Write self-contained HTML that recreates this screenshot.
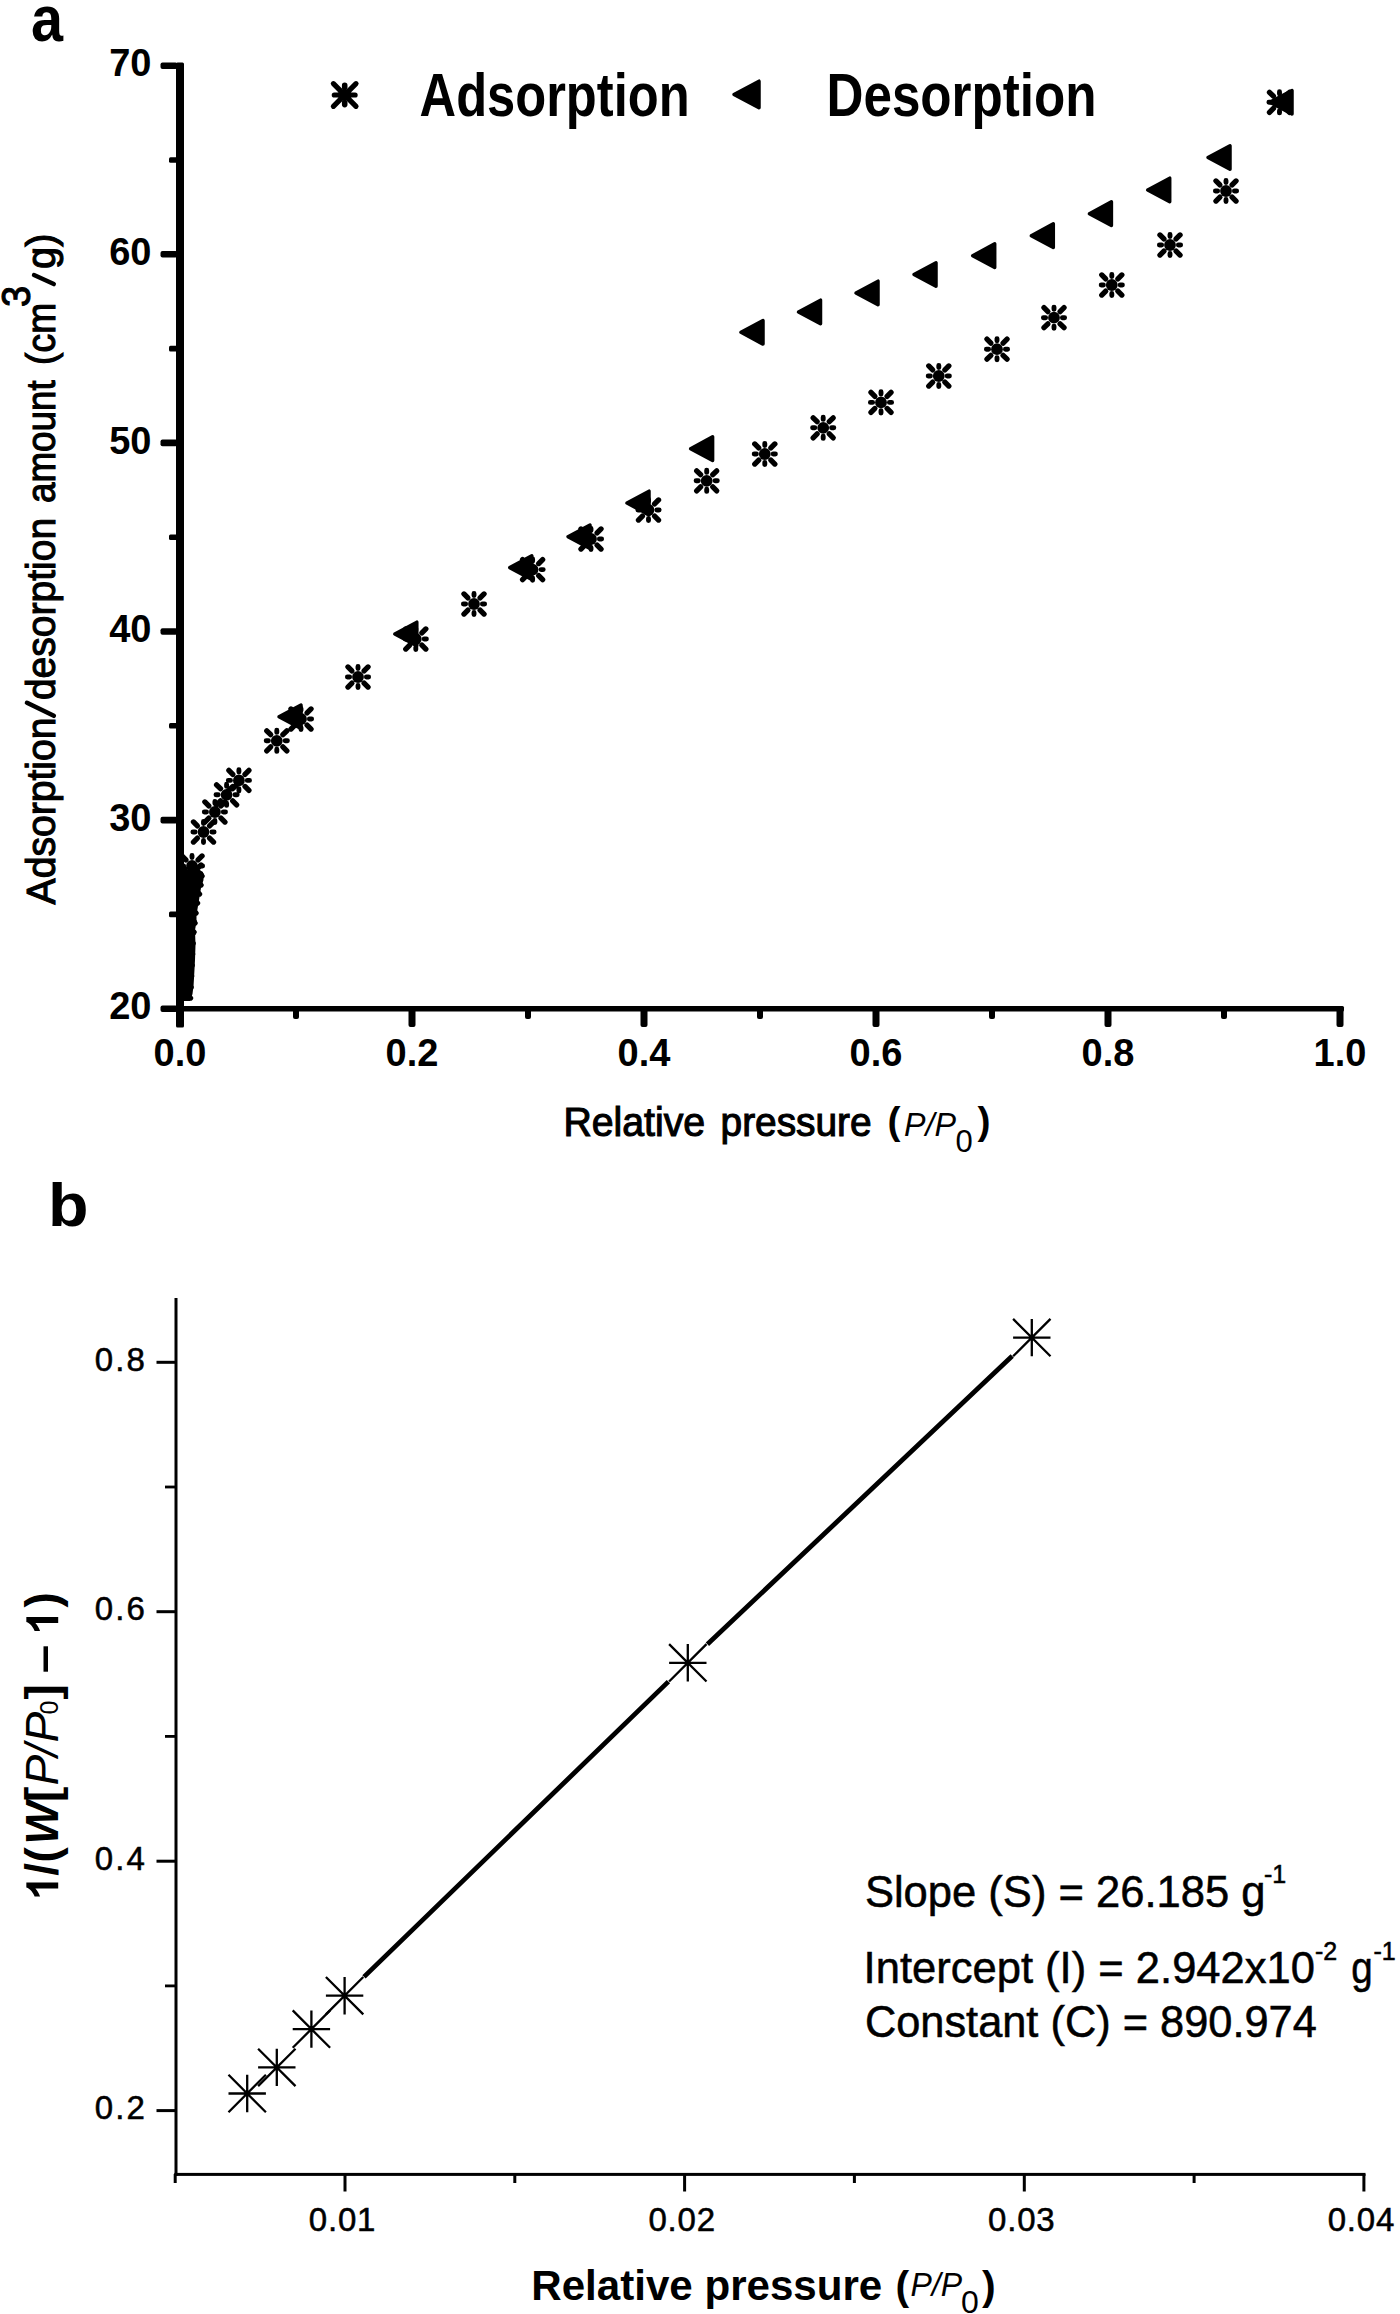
<!DOCTYPE html>
<html><head><meta charset="utf-8"><style>
html,body{margin:0;padding:0;background:#fff;}
body{width:1400px;height:2314px;overflow:hidden;position:relative;font-family:"Liberation Sans",sans-serif;}
svg{position:absolute;left:0;top:0;}
</style></head><body>
<svg width="1400" height="2314" viewBox="0 0 1400 2314">
<rect x="176" y="62.5" width="8" height="965" rx="1.5" fill="#000"/>
<rect x="176" y="1006" width="1168" height="5.5" rx="1.5" fill="#000"/>
<rect x="160.5" y="1005.4" width="17" height="6.6" rx="2" fill="#000"/>
<rect x="160.5" y="816.8" width="17" height="6.6" rx="2" fill="#000"/>
<rect x="160.5" y="628.2" width="17" height="6.6" rx="2" fill="#000"/>
<rect x="160.5" y="439.6" width="17" height="6.6" rx="2" fill="#000"/>
<rect x="160.5" y="251.0" width="17" height="6.6" rx="2" fill="#000"/>
<rect x="160.5" y="62.4" width="17" height="6.6" rx="2" fill="#000"/>
<rect x="169" y="911.6" width="9" height="5.6" rx="1.5" fill="#000"/>
<rect x="169" y="723.0" width="9" height="5.6" rx="1.5" fill="#000"/>
<rect x="169" y="534.4" width="9" height="5.6" rx="1.5" fill="#000"/>
<rect x="169" y="345.8" width="9" height="5.6" rx="1.5" fill="#000"/>
<rect x="169" y="157.2" width="9" height="5.6" rx="1.5" fill="#000"/>
<rect x="408.5" y="1008" width="7" height="19" rx="2" fill="#000"/>
<rect x="640.5" y="1008" width="7" height="19" rx="2" fill="#000"/>
<rect x="872.5" y="1008" width="7" height="19" rx="2" fill="#000"/>
<rect x="1104.5" y="1008" width="7" height="19" rx="2" fill="#000"/>
<rect x="1336.5" y="1008" width="7" height="19" rx="2" fill="#000"/>
<rect x="293.0" y="1008" width="6" height="11" rx="2" fill="#000"/>
<rect x="525.0" y="1008" width="6" height="11" rx="2" fill="#000"/>
<rect x="757.0" y="1008" width="6" height="11" rx="2" fill="#000"/>
<rect x="989.0" y="1008" width="6" height="11" rx="2" fill="#000"/>
<rect x="1221.0" y="1008" width="6" height="11" rx="2" fill="#000"/>
<text x="151.5" y="1019.4" font-family="Liberation Sans" font-weight="bold" font-size="38" text-anchor="end">20</text>
<text x="151.5" y="830.8" font-family="Liberation Sans" font-weight="bold" font-size="38" text-anchor="end">30</text>
<text x="151.5" y="642.2" font-family="Liberation Sans" font-weight="bold" font-size="38" text-anchor="end">40</text>
<text x="151.5" y="453.6" font-family="Liberation Sans" font-weight="bold" font-size="38" text-anchor="end">50</text>
<text x="151.5" y="265.0" font-family="Liberation Sans" font-weight="bold" font-size="38" text-anchor="end">60</text>
<text x="151.5" y="76.4" font-family="Liberation Sans" font-weight="bold" font-size="38" text-anchor="end">70</text>
<text x="180.0" y="1065.8" font-family="Liberation Sans" font-weight="bold" font-size="38" text-anchor="middle">0.0</text>
<text x="412.0" y="1065.8" font-family="Liberation Sans" font-weight="bold" font-size="38" text-anchor="middle">0.2</text>
<text x="644.0" y="1065.8" font-family="Liberation Sans" font-weight="bold" font-size="38" text-anchor="middle">0.4</text>
<text x="876.0" y="1065.8" font-family="Liberation Sans" font-weight="bold" font-size="38" text-anchor="middle">0.6</text>
<text x="1108.0" y="1065.8" font-family="Liberation Sans" font-weight="bold" font-size="38" text-anchor="middle">0.8</text>
<text x="1340.0" y="1065.8" font-family="Liberation Sans" font-weight="bold" font-size="38" text-anchor="middle">1.0</text>
<defs><clipPath id="ca"><rect x="182" y="0" width="1218" height="1008"/></clipPath></defs>
<g clip-path="url(#ca)">
<path d="M1270.0 102.3L1292.0 90.5L1292.0 114.0Z" fill="#000" stroke="#000" stroke-width="3.5" stroke-linejoin="round"/>
<path d="M1208.0 157.5L1230.0 145.8L1230.0 169.2Z" fill="#000" stroke="#000" stroke-width="3.5" stroke-linejoin="round"/>
<path d="M1147.7 190.0L1169.7 178.2L1169.7 201.8Z" fill="#000" stroke="#000" stroke-width="3.5" stroke-linejoin="round"/>
<path d="M1089.4 213.7L1111.4 201.9L1111.4 225.4Z" fill="#000" stroke="#000" stroke-width="3.5" stroke-linejoin="round"/>
<path d="M1031.3 235.7L1053.3 223.9L1053.3 247.4Z" fill="#000" stroke="#000" stroke-width="3.5" stroke-linejoin="round"/>
<path d="M972.7 255.7L994.7 243.9L994.7 267.4Z" fill="#000" stroke="#000" stroke-width="3.5" stroke-linejoin="round"/>
<path d="M914.0 274.5L936.0 262.8L936.0 286.2Z" fill="#000" stroke="#000" stroke-width="3.5" stroke-linejoin="round"/>
<path d="M856.0 293.0L878.0 281.2L878.0 304.8Z" fill="#000" stroke="#000" stroke-width="3.5" stroke-linejoin="round"/>
<path d="M798.5 312.0L820.5 300.2L820.5 323.8Z" fill="#000" stroke="#000" stroke-width="3.5" stroke-linejoin="round"/>
<path d="M741.0 332.3L763.0 320.6L763.0 344.1Z" fill="#000" stroke="#000" stroke-width="3.5" stroke-linejoin="round"/>
<path d="M690.6 448.7L712.6 436.9L712.6 460.4Z" fill="#000" stroke="#000" stroke-width="3.5" stroke-linejoin="round"/>
<path d="M627.0 503.0L649.0 491.2L649.0 514.8Z" fill="#000" stroke="#000" stroke-width="3.5" stroke-linejoin="round"/>
<path d="M568.0 536.7L590.0 525.0L590.0 548.5Z" fill="#000" stroke="#000" stroke-width="3.5" stroke-linejoin="round"/>
<path d="M509.8 567.6L531.8 555.9L531.8 579.4Z" fill="#000" stroke="#000" stroke-width="3.5" stroke-linejoin="round"/>
<path d="M394.8 634.0L416.8 622.2L416.8 645.8Z" fill="#000" stroke="#000" stroke-width="3.5" stroke-linejoin="round"/>
<path d="M279.0 716.8L301.0 705.0L301.0 728.5Z" fill="#000" stroke="#000" stroke-width="3.5" stroke-linejoin="round"/>
<path d="M1287.90 102.30L1290.10 102.30M1271.10 102.30L1268.90 102.30M1279.50 110.70L1279.50 112.90M1279.50 93.90L1279.50 91.70" stroke="#000" stroke-width="4.9" stroke-linecap="round" fill="none"/><path d="M1285.58 108.38L1289.54 112.34M1273.42 108.38L1269.46 112.34M1285.58 96.22L1289.54 92.26M1273.42 96.22L1269.46 92.26" stroke="#000" stroke-width="5.300000000000001" stroke-linecap="round" fill="none"/><circle cx="1279.50" cy="102.30" r="5.9" fill="#000"/>
<path d="M1234.40 191.00L1236.60 191.00M1217.60 191.00L1215.40 191.00M1226.00 199.40L1226.00 201.60M1226.00 182.60L1226.00 180.40" stroke="#000" stroke-width="4.9" stroke-linecap="round" fill="none"/><path d="M1232.08 197.08L1236.04 201.04M1219.92 197.08L1215.96 201.04M1232.08 184.92L1236.04 180.96M1219.92 184.92L1215.96 180.96" stroke="#000" stroke-width="5.300000000000001" stroke-linecap="round" fill="none"/><circle cx="1226.00" cy="191.00" r="5.9" fill="#000"/>
<path d="M1178.40 245.00L1180.60 245.00M1161.60 245.00L1159.40 245.00M1170.00 253.40L1170.00 255.60M1170.00 236.60L1170.00 234.40" stroke="#000" stroke-width="4.9" stroke-linecap="round" fill="none"/><path d="M1176.08 251.08L1180.04 255.04M1163.92 251.08L1159.96 255.04M1176.08 238.92L1180.04 234.96M1163.92 238.92L1159.96 234.96" stroke="#000" stroke-width="5.300000000000001" stroke-linecap="round" fill="none"/><circle cx="1170.00" cy="245.00" r="5.9" fill="#000"/>
<path d="M1120.20 285.00L1122.40 285.00M1103.40 285.00L1101.20 285.00M1111.80 293.40L1111.80 295.60M1111.80 276.60L1111.80 274.40" stroke="#000" stroke-width="4.9" stroke-linecap="round" fill="none"/><path d="M1117.88 291.08L1121.84 295.04M1105.72 291.08L1101.76 295.04M1117.88 278.92L1121.84 274.96M1105.72 278.92L1101.76 274.96" stroke="#000" stroke-width="5.300000000000001" stroke-linecap="round" fill="none"/><circle cx="1111.80" cy="285.00" r="5.9" fill="#000"/>
<path d="M1062.40 317.70L1064.60 317.70M1045.60 317.70L1043.40 317.70M1054.00 326.10L1054.00 328.30M1054.00 309.30L1054.00 307.10" stroke="#000" stroke-width="4.9" stroke-linecap="round" fill="none"/><path d="M1060.08 323.78L1064.04 327.74M1047.92 323.78L1043.96 327.74M1060.08 311.62L1064.04 307.66M1047.92 311.62L1043.96 307.66" stroke="#000" stroke-width="5.300000000000001" stroke-linecap="round" fill="none"/><circle cx="1054.00" cy="317.70" r="5.9" fill="#000"/>
<path d="M1005.40 349.20L1007.60 349.20M988.60 349.20L986.40 349.20M997.00 357.60L997.00 359.80M997.00 340.80L997.00 338.60" stroke="#000" stroke-width="4.9" stroke-linecap="round" fill="none"/><path d="M1003.08 355.28L1007.04 359.24M990.92 355.28L986.96 359.24M1003.08 343.12L1007.04 339.16M990.92 343.12L986.96 339.16" stroke="#000" stroke-width="5.300000000000001" stroke-linecap="round" fill="none"/><circle cx="997.00" cy="349.20" r="5.9" fill="#000"/>
<path d="M947.20 376.00L949.40 376.00M930.40 376.00L928.20 376.00M938.80 384.40L938.80 386.60M938.80 367.60L938.80 365.40" stroke="#000" stroke-width="4.9" stroke-linecap="round" fill="none"/><path d="M944.88 382.08L948.84 386.04M932.72 382.08L928.76 386.04M944.88 369.92L948.84 365.96M932.72 369.92L928.76 365.96" stroke="#000" stroke-width="5.300000000000001" stroke-linecap="round" fill="none"/><circle cx="938.80" cy="376.00" r="5.9" fill="#000"/>
<path d="M889.40 402.40L891.60 402.40M872.60 402.40L870.40 402.40M881.00 410.80L881.00 413.00M881.00 394.00L881.00 391.80" stroke="#000" stroke-width="4.9" stroke-linecap="round" fill="none"/><path d="M887.08 408.48L891.04 412.44M874.92 408.48L870.96 412.44M887.08 396.32L891.04 392.36M874.92 396.32L870.96 392.36" stroke="#000" stroke-width="5.300000000000001" stroke-linecap="round" fill="none"/><circle cx="881.00" cy="402.40" r="5.9" fill="#000"/>
<path d="M831.60 427.80L833.80 427.80M814.80 427.80L812.60 427.80M823.20 436.20L823.20 438.40M823.20 419.40L823.20 417.20" stroke="#000" stroke-width="4.9" stroke-linecap="round" fill="none"/><path d="M829.28 433.88L833.24 437.84M817.12 433.88L813.16 437.84M829.28 421.72L833.24 417.76M817.12 421.72L813.16 417.76" stroke="#000" stroke-width="5.300000000000001" stroke-linecap="round" fill="none"/><circle cx="823.20" cy="427.80" r="5.9" fill="#000"/>
<path d="M773.20 454.00L775.40 454.00M756.40 454.00L754.20 454.00M764.80 462.40L764.80 464.60M764.80 445.60L764.80 443.40" stroke="#000" stroke-width="4.9" stroke-linecap="round" fill="none"/><path d="M770.88 460.08L774.84 464.04M758.72 460.08L754.76 464.04M770.88 447.92L774.84 443.96M758.72 447.92L754.76 443.96" stroke="#000" stroke-width="5.300000000000001" stroke-linecap="round" fill="none"/><circle cx="764.80" cy="454.00" r="5.9" fill="#000"/>
<path d="M715.10 480.80L717.30 480.80M698.30 480.80L696.10 480.80M706.70 489.20L706.70 491.40M706.70 472.40L706.70 470.20" stroke="#000" stroke-width="4.9" stroke-linecap="round" fill="none"/><path d="M712.78 486.88L716.74 490.84M700.62 486.88L696.66 490.84M712.78 474.72L716.74 470.76M700.62 474.72L696.66 470.76" stroke="#000" stroke-width="5.300000000000001" stroke-linecap="round" fill="none"/><circle cx="706.70" cy="480.80" r="5.9" fill="#000"/>
<path d="M656.90 510.00L659.10 510.00M640.10 510.00L637.90 510.00M648.50 518.40L648.50 520.60M648.50 501.60L648.50 499.40" stroke="#000" stroke-width="4.9" stroke-linecap="round" fill="none"/><path d="M654.58 516.08L658.54 520.04M642.42 516.08L638.46 520.04M654.58 503.92L658.54 499.96M642.42 503.92L638.46 499.96" stroke="#000" stroke-width="5.300000000000001" stroke-linecap="round" fill="none"/><circle cx="648.50" cy="510.00" r="5.9" fill="#000"/>
<path d="M599.40 539.00L601.60 539.00M582.60 539.00L580.40 539.00M591.00 547.40L591.00 549.60M591.00 530.60L591.00 528.40" stroke="#000" stroke-width="4.9" stroke-linecap="round" fill="none"/><path d="M597.08 545.08L601.04 549.04M584.92 545.08L580.96 549.04M597.08 532.92L601.04 528.96M584.92 532.92L580.96 528.96" stroke="#000" stroke-width="5.300000000000001" stroke-linecap="round" fill="none"/><circle cx="591.00" cy="539.00" r="5.9" fill="#000"/>
<path d="M541.00 569.60L543.20 569.60M524.20 569.60L522.00 569.60M532.60 578.00L532.60 580.20M532.60 561.20L532.60 559.00" stroke="#000" stroke-width="4.9" stroke-linecap="round" fill="none"/><path d="M538.68 575.68L542.64 579.64M526.52 575.68L522.56 579.64M538.68 563.52L542.64 559.56M526.52 563.52L522.56 559.56" stroke="#000" stroke-width="5.300000000000001" stroke-linecap="round" fill="none"/><circle cx="532.60" cy="569.60" r="5.9" fill="#000"/>
<path d="M482.40 604.00L484.60 604.00M465.60 604.00L463.40 604.00M474.00 612.40L474.00 614.60M474.00 595.60L474.00 593.40" stroke="#000" stroke-width="4.9" stroke-linecap="round" fill="none"/><path d="M480.08 610.08L484.04 614.04M467.92 610.08L463.96 614.04M480.08 597.92L484.04 593.96M467.92 597.92L463.96 593.96" stroke="#000" stroke-width="5.300000000000001" stroke-linecap="round" fill="none"/><circle cx="474.00" cy="604.00" r="5.9" fill="#000"/>
<path d="M424.20 639.00L426.40 639.00M407.40 639.00L405.20 639.00M415.80 647.40L415.80 649.60M415.80 630.60L415.80 628.40" stroke="#000" stroke-width="4.9" stroke-linecap="round" fill="none"/><path d="M421.88 645.08L425.84 649.04M409.72 645.08L405.76 649.04M421.88 632.92L425.84 628.96M409.72 632.92L405.76 628.96" stroke="#000" stroke-width="5.300000000000001" stroke-linecap="round" fill="none"/><circle cx="415.80" cy="639.00" r="5.9" fill="#000"/>
<path d="M366.40 677.00L368.60 677.00M349.60 677.00L347.40 677.00M358.00 685.40L358.00 687.60M358.00 668.60L358.00 666.40" stroke="#000" stroke-width="4.9" stroke-linecap="round" fill="none"/><path d="M364.08 683.08L368.04 687.04M351.92 683.08L347.96 687.04M364.08 670.92L368.04 666.96M351.92 670.92L347.96 666.96" stroke="#000" stroke-width="5.300000000000001" stroke-linecap="round" fill="none"/><circle cx="358.00" cy="677.00" r="5.9" fill="#000"/>
<path d="M309.40 719.00L311.60 719.00M292.60 719.00L290.40 719.00M301.00 727.40L301.00 729.60M301.00 710.60L301.00 708.40" stroke="#000" stroke-width="4.9" stroke-linecap="round" fill="none"/><path d="M307.08 725.08L311.04 729.04M294.92 725.08L290.96 729.04M307.08 712.92L311.04 708.96M294.92 712.92L290.96 708.96" stroke="#000" stroke-width="5.300000000000001" stroke-linecap="round" fill="none"/><circle cx="301.00" cy="719.00" r="5.9" fill="#000"/>
<path d="M285.20 740.80L287.40 740.80M268.40 740.80L266.20 740.80M276.80 749.20L276.80 751.40M276.80 732.40L276.80 730.20" stroke="#000" stroke-width="4.9" stroke-linecap="round" fill="none"/><path d="M282.88 746.88L286.84 750.84M270.72 746.88L266.76 750.84M282.88 734.72L286.84 730.76M270.72 734.72L266.76 730.76" stroke="#000" stroke-width="5.300000000000001" stroke-linecap="round" fill="none"/><circle cx="276.80" cy="740.80" r="5.9" fill="#000"/>
<path d="M247.30 780.40L249.50 780.40M230.50 780.40L228.30 780.40M238.90 788.80L238.90 791.00M238.90 772.00L238.90 769.80" stroke="#000" stroke-width="4.9" stroke-linecap="round" fill="none"/><path d="M244.98 786.48L248.94 790.44M232.82 786.48L228.86 790.44M244.98 774.32L248.94 770.36M232.82 774.32L228.86 770.36" stroke="#000" stroke-width="5.300000000000001" stroke-linecap="round" fill="none"/><circle cx="238.90" cy="780.40" r="5.9" fill="#000"/>
<path d="M235.00 794.80L237.20 794.80M218.20 794.80L216.00 794.80M226.60 803.20L226.60 805.40M226.60 786.40L226.60 784.20" stroke="#000" stroke-width="4.9" stroke-linecap="round" fill="none"/><path d="M232.68 800.88L236.64 804.84M220.52 800.88L216.56 804.84M232.68 788.72L236.64 784.76M220.52 788.72L216.56 784.76" stroke="#000" stroke-width="5.300000000000001" stroke-linecap="round" fill="none"/><circle cx="226.60" cy="794.80" r="5.9" fill="#000"/>
<path d="M223.30 812.00L225.50 812.00M206.50 812.00L204.30 812.00M214.90 820.40L214.90 822.60M214.90 803.60L214.90 801.40" stroke="#000" stroke-width="4.9" stroke-linecap="round" fill="none"/><path d="M220.98 818.08L224.94 822.04M208.82 818.08L204.86 822.04M220.98 805.92L224.94 801.96M208.82 805.92L204.86 801.96" stroke="#000" stroke-width="5.300000000000001" stroke-linecap="round" fill="none"/><circle cx="214.90" cy="812.00" r="5.9" fill="#000"/>
<path d="M211.90 832.00L214.10 832.00M195.10 832.00L192.90 832.00M203.50 840.40L203.50 842.60M203.50 823.60L203.50 821.40" stroke="#000" stroke-width="4.9" stroke-linecap="round" fill="none"/><path d="M209.58 838.08L213.54 842.04M197.42 838.08L193.46 842.04M209.58 825.92L213.54 821.96M197.42 825.92L193.46 821.96" stroke="#000" stroke-width="5.300000000000001" stroke-linecap="round" fill="none"/><circle cx="203.50" cy="832.00" r="5.9" fill="#000"/>
<path d="M200.40 866.00L202.60 866.00M183.60 866.00L181.40 866.00M192.00 874.40L192.00 876.60M192.00 857.60L192.00 855.40" stroke="#000" stroke-width="4.9" stroke-linecap="round" fill="none"/><path d="M198.08 872.08L202.04 876.04M185.92 872.08L181.96 876.04M198.08 859.92L202.04 855.96M185.92 859.92L181.96 855.96" stroke="#000" stroke-width="5.300000000000001" stroke-linecap="round" fill="none"/><circle cx="192.00" cy="866.00" r="5.9" fill="#000"/>
<path d="M199.40 875.00L201.60 875.00M182.60 875.00L180.40 875.00M191.00 883.40L191.00 885.60M191.00 866.60L191.00 864.40" stroke="#000" stroke-width="4.9" stroke-linecap="round" fill="none"/><path d="M197.08 881.08L201.04 885.04M184.92 881.08L180.96 885.04M197.08 868.92L201.04 864.96M184.92 868.92L180.96 864.96" stroke="#000" stroke-width="5.300000000000001" stroke-linecap="round" fill="none"/><circle cx="191.00" cy="875.00" r="5.9" fill="#000"/>
<path d="M197.90 884.00L200.10 884.00M181.10 884.00L178.90 884.00M189.50 892.40L189.50 894.60M189.50 875.60L189.50 873.40" stroke="#000" stroke-width="4.9" stroke-linecap="round" fill="none"/><path d="M195.58 890.08L199.54 894.04M183.42 890.08L179.46 894.04M195.58 877.92L199.54 873.96M183.42 877.92L179.46 873.96" stroke="#000" stroke-width="5.300000000000001" stroke-linecap="round" fill="none"/><circle cx="189.50" cy="884.00" r="5.9" fill="#000"/>
<path d="M195.90 893.00L198.10 893.00M179.10 893.00L176.90 893.00M187.50 901.40L187.50 903.60M187.50 884.60L187.50 882.40" stroke="#000" stroke-width="4.9" stroke-linecap="round" fill="none"/><path d="M193.58 899.08L197.54 903.04M181.42 899.08L177.46 903.04M193.58 886.92L197.54 882.96M181.42 886.92L177.46 882.96" stroke="#000" stroke-width="5.300000000000001" stroke-linecap="round" fill="none"/><circle cx="187.50" cy="893.00" r="5.9" fill="#000"/>
<path d="M194.40 903.00L196.60 903.00M177.60 903.00L175.40 903.00M186.00 911.40L186.00 913.60M186.00 894.60L186.00 892.40" stroke="#000" stroke-width="4.9" stroke-linecap="round" fill="none"/><path d="M192.08 909.08L196.04 913.04M179.92 909.08L175.96 913.04M192.08 896.92L196.04 892.96M179.92 896.92L175.96 892.96" stroke="#000" stroke-width="5.300000000000001" stroke-linecap="round" fill="none"/><circle cx="186.00" cy="903.00" r="5.9" fill="#000"/>
<path d="M193.40 913.00L195.60 913.00M176.60 913.00L174.40 913.00M185.00 921.40L185.00 923.60M185.00 904.60L185.00 902.40" stroke="#000" stroke-width="4.9" stroke-linecap="round" fill="none"/><path d="M191.08 919.08L195.04 923.04M178.92 919.08L174.96 923.04M191.08 906.92L195.04 902.96M178.92 906.92L174.96 902.96" stroke="#000" stroke-width="5.300000000000001" stroke-linecap="round" fill="none"/><circle cx="185.00" cy="913.00" r="5.9" fill="#000"/>
<path d="M192.40 922.00L194.60 922.00M175.60 922.00L173.40 922.00M184.00 930.40L184.00 932.60M184.00 913.60L184.00 911.40" stroke="#000" stroke-width="4.9" stroke-linecap="round" fill="none"/><path d="M190.08 928.08L194.04 932.04M177.92 928.08L173.96 932.04M190.08 915.92L194.04 911.96M177.92 915.92L173.96 911.96" stroke="#000" stroke-width="5.300000000000001" stroke-linecap="round" fill="none"/><circle cx="184.00" cy="922.00" r="5.9" fill="#000"/>
<path d="M191.40 933.00L193.60 933.00M174.60 933.00L172.40 933.00M183.00 941.40L183.00 943.60M183.00 924.60L183.00 922.40" stroke="#000" stroke-width="4.9" stroke-linecap="round" fill="none"/><path d="M189.08 939.08L193.04 943.04M176.92 939.08L172.96 943.04M189.08 926.92L193.04 922.96M176.92 926.92L172.96 922.96" stroke="#000" stroke-width="5.300000000000001" stroke-linecap="round" fill="none"/><circle cx="183.00" cy="933.00" r="5.9" fill="#000"/>
<path d="M190.90 944.00L193.10 944.00M174.10 944.00L171.90 944.00M182.50 952.40L182.50 954.60M182.50 935.60L182.50 933.40" stroke="#000" stroke-width="4.9" stroke-linecap="round" fill="none"/><path d="M188.58 950.08L192.54 954.04M176.42 950.08L172.46 954.04M188.58 937.92L192.54 933.96M176.42 937.92L172.46 933.96" stroke="#000" stroke-width="5.300000000000001" stroke-linecap="round" fill="none"/><circle cx="182.50" cy="944.00" r="5.9" fill="#000"/>
<path d="M190.40 955.00L192.60 955.00M173.60 955.00L171.40 955.00M182.00 963.40L182.00 965.60M182.00 946.60L182.00 944.40" stroke="#000" stroke-width="4.9" stroke-linecap="round" fill="none"/><path d="M188.08 961.08L192.04 965.04M175.92 961.08L171.96 965.04M188.08 948.92L192.04 944.96M175.92 948.92L171.96 944.96" stroke="#000" stroke-width="5.300000000000001" stroke-linecap="round" fill="none"/><circle cx="182.00" cy="955.00" r="5.9" fill="#000"/>
<path d="M189.90 966.00L192.10 966.00M173.10 966.00L170.90 966.00M181.50 974.40L181.50 976.60M181.50 957.60L181.50 955.40" stroke="#000" stroke-width="4.9" stroke-linecap="round" fill="none"/><path d="M187.58 972.08L191.54 976.04M175.42 972.08L171.46 976.04M187.58 959.92L191.54 955.96M175.42 959.92L171.46 955.96" stroke="#000" stroke-width="5.300000000000001" stroke-linecap="round" fill="none"/><circle cx="181.50" cy="966.00" r="5.9" fill="#000"/>
<path d="M189.40 977.00L191.60 977.00M172.60 977.00L170.40 977.00M181.00 985.40L181.00 987.60M181.00 968.60L181.00 966.40" stroke="#000" stroke-width="4.9" stroke-linecap="round" fill="none"/><path d="M187.08 983.08L191.04 987.04M174.92 983.08L170.96 987.04M187.08 970.92L191.04 966.96M174.92 970.92L170.96 966.96" stroke="#000" stroke-width="5.300000000000001" stroke-linecap="round" fill="none"/><circle cx="181.00" cy="977.00" r="5.9" fill="#000"/>
<path d="M188.90 988.00L191.10 988.00M172.10 988.00L169.90 988.00M180.50 996.40L180.50 998.60M180.50 979.60L180.50 977.40" stroke="#000" stroke-width="4.9" stroke-linecap="round" fill="none"/><path d="M186.58 994.08L190.54 998.04M174.42 994.08L170.46 998.04M186.58 981.92L190.54 977.96M174.42 981.92L170.46 977.96" stroke="#000" stroke-width="5.300000000000001" stroke-linecap="round" fill="none"/><circle cx="180.50" cy="988.00" r="5.9" fill="#000"/>
<path d="M183 870L196 868L203 872L203.5 880L201 888L199.5 897L198 906L196.5 915L196.5 922L195 930L195.5 945L195 960L194.2 975L193.6 985L192.5 994L190 1001L183 1001Z" fill="#000"/>
</g>
<path d="M333.4 83.7L356.0 106.3M333.4 106.3L356.0 83.7M334.3 95.0L355.1 95.0" stroke="#000" stroke-width="5.2" stroke-linecap="round" fill="none"/><path d="M344.7 85.4L344.7 87.4M344.7 102.6L344.7 104.6" stroke="#000" stroke-width="5.6000000000000005" stroke-linecap="round" fill="none"/><rect x="338.9" y="89.7" width="11.6" height="10.6" rx="3" fill="#000"/>
<path d="M734.0 94.5L759.0 81.2L759.0 107.8Z" fill="#000" stroke="#000" stroke-width="3.5" stroke-linejoin="round"/>
<text x="419.6" y="115.6" font-family="Liberation Sans" font-weight="bold" font-size="61" textLength="270" lengthAdjust="spacingAndGlyphs">Adsorption</text>
<text x="826.5" y="115.6" font-family="Liberation Sans" font-weight="bold" font-size="61" textLength="270" lengthAdjust="spacingAndGlyphs">Desorption</text>
<text x="563.4" y="1135.6" font-family="Liberation Sans" stroke="#000" stroke-width="1.1" font-size="40" textLength="141.7" lengthAdjust="spacingAndGlyphs">Relative</text>
<text x="720.6" y="1135.6" font-family="Liberation Sans" stroke="#000" stroke-width="1.1" font-size="40" textLength="151" lengthAdjust="spacingAndGlyphs">pressure</text>
<text x="887.5" y="1134.3" font-family="Liberation Sans" font-weight="bold" font-size="39">(</text>
<text x="904" y="1135.5" font-family="Liberation Sans" font-style="italic" font-size="33.4" textLength="52" lengthAdjust="spacingAndGlyphs">P/P</text>
<text x="955.5" y="1152" font-family="Liberation Sans" font-size="31">0</text>
<text x="977.5" y="1134.3" font-family="Liberation Sans" font-weight="bold" font-size="39">)</text>
<g transform="translate(55,904.4) rotate(-90)"><text x="0" y="0" font-family="Liberation Sans" stroke="#000" stroke-width="1.1" font-size="40" textLength="186.9" lengthAdjust="spacingAndGlyphs">Adsorption</text><path d="M188.6 -1.2L201.6 -28" stroke="#000" stroke-width="4.6" stroke-linecap="round"/><text x="204.3" y="0" font-family="Liberation Sans" stroke="#000" stroke-width="1.1" font-size="40" textLength="182.2" lengthAdjust="spacingAndGlyphs">desorption</text><text x="401.5" y="0" font-family="Liberation Sans" stroke="#000" stroke-width="1.1" font-size="40" textLength="122.5" lengthAdjust="spacingAndGlyphs">amount</text><text x="539.5" y="0" font-family="Liberation Sans" stroke="#000" stroke-width="1.1" font-size="40" textLength="62.1" lengthAdjust="spacingAndGlyphs">(cm</text><text x="597.4" y="-25" font-family="Liberation Sans" stroke="#000" stroke-width="1.1" font-size="40" textLength="21.1" lengthAdjust="spacingAndGlyphs">3</text><path d="M620.3 -1.2L629.3 -21" stroke="#000" stroke-width="4.4" stroke-linecap="round"/><text x="635.5" y="0" font-family="Liberation Sans" stroke="#000" stroke-width="1.1" font-size="40" textLength="35.5" lengthAdjust="spacingAndGlyphs">g)</text></g>
<rect x="174.5" y="1298" width="3" height="878" fill="#000"/>
<rect x="174.3" y="2172.9" width="1191.2" height="3" fill="#000"/>
<rect x="156.5" y="2109.1" width="19" height="3" fill="#000"/>
<rect x="156.5" y="1859.7" width="19" height="3" fill="#000"/>
<rect x="156.5" y="1610.2" width="19" height="3" fill="#000"/>
<rect x="156.5" y="1360.8" width="19" height="3" fill="#000"/>
<rect x="165" y="1984.5" width="10" height="2.8" fill="#000"/>
<rect x="165" y="1735.0" width="10" height="2.8" fill="#000"/>
<rect x="165" y="1485.6" width="10" height="2.8" fill="#000"/>
<rect x="343.5" y="2174" width="3" height="17.5" fill="#000"/>
<rect x="683.1" y="2174" width="3" height="17.5" fill="#000"/>
<rect x="1022.8" y="2174" width="3" height="17.5" fill="#000"/>
<rect x="1362.4" y="2174" width="3" height="17.5" fill="#000"/>
<rect x="173.7" y="2174" width="3" height="9" fill="#000"/>
<rect x="513.3" y="2174" width="3" height="9" fill="#000"/>
<rect x="852.9" y="2174" width="3" height="9" fill="#000"/>
<rect x="1192.6" y="2174" width="3" height="9" fill="#000"/>
<text x="94.8" y="2119.1" font-family="Liberation Sans" stroke="#000" stroke-width="0.55" font-size="33" letter-spacing="2.1">0.2</text>
<text x="94.8" y="1869.7" font-family="Liberation Sans" stroke="#000" stroke-width="0.55" font-size="33" letter-spacing="2.1">0.4</text>
<text x="94.8" y="1620.2" font-family="Liberation Sans" stroke="#000" stroke-width="0.55" font-size="33" letter-spacing="2.1">0.6</text>
<text x="94.8" y="1370.8" font-family="Liberation Sans" stroke="#000" stroke-width="0.55" font-size="33" letter-spacing="2.1">0.8</text>
<text x="342.5" y="2230.5" font-family="Liberation Sans" stroke="#000" stroke-width="0.55" font-size="33" text-anchor="middle" letter-spacing="0.8">0.01</text>
<text x="682.1" y="2230.5" font-family="Liberation Sans" stroke="#000" stroke-width="0.55" font-size="33" text-anchor="middle" letter-spacing="0.8">0.02</text>
<text x="1021.8" y="2230.5" font-family="Liberation Sans" stroke="#000" stroke-width="0.55" font-size="33" text-anchor="middle" letter-spacing="0.8">0.03</text>
<text x="1361.4" y="2230.5" font-family="Liberation Sans" stroke="#000" stroke-width="0.55" font-size="33" text-anchor="middle" letter-spacing="0.8">0.04</text>
<path d="M364.0 1976.9L668.4 1681.6M707.4 1644.3L1012.2 1356.1" stroke="#000" stroke-width="4.8" fill="none"/>
<path d="M228.5 2074.8L265.9 2112.2M228.5 2112.2L265.9 2074.8M228.5 2093.5L265.9 2093.5M247.2 2074.8L247.2 2112.2" stroke="#000" stroke-width="2.3" fill="none"/>
<path d="M258.1 2048.7L295.5 2086.1M258.1 2086.1L295.5 2048.7M258.1 2067.4L295.5 2067.4M276.8 2048.7L276.8 2086.1" stroke="#000" stroke-width="2.3" fill="none"/>
<path d="M292.7 2010.4L330.1 2047.8M292.7 2047.8L330.1 2010.4M292.7 2029.1L330.1 2029.1M311.4 2010.4L311.4 2047.8" stroke="#000" stroke-width="2.3" fill="none"/>
<path d="M325.9 1977.0L363.3 2014.4M325.9 2014.4L363.3 1977.0M325.9 1995.7L363.3 1995.7M344.6 1977.0L344.6 2014.4" stroke="#000" stroke-width="2.3" fill="none"/>
<path d="M669.1 1644.1L706.5 1681.5M669.1 1681.5L706.5 1644.1M669.1 1662.8L706.5 1662.8M687.8 1644.1L687.8 1681.5" stroke="#000" stroke-width="2.3" fill="none"/>
<path d="M1013.1 1318.9L1050.5 1356.3M1013.1 1356.3L1050.5 1318.9M1013.1 1337.6L1050.5 1337.6M1031.8 1318.9L1031.8 1356.3" stroke="#000" stroke-width="2.3" fill="none"/>
<text x="864.9" y="1906.9" font-family="Liberation Sans" stroke="#000" stroke-width="0.55" font-size="44.8" textLength="400.6" lengthAdjust="spacingAndGlyphs">Slope (S) = 26.185 g</text>
<text x="1264" y="1883.1" font-family="Liberation Sans" stroke="#000" stroke-width="0.55" font-size="25">-1</text>
<text x="863.6" y="1982.7" font-family="Liberation Sans" stroke="#000" stroke-width="0.55" font-size="44.8" textLength="451.4" lengthAdjust="spacingAndGlyphs">Intercept (I) = 2.942x10</text>
<text x="1314.9" y="1959.6" font-family="Liberation Sans" stroke="#000" stroke-width="0.55" font-size="25">-2</text>
<text x="1351.3" y="1982.7" font-family="Liberation Sans" stroke="#000" stroke-width="0.55" font-size="44.8" textLength="21.5" lengthAdjust="spacingAndGlyphs">g</text>
<text x="1373.4" y="1959.6" font-family="Liberation Sans" stroke="#000" stroke-width="0.55" font-size="25">-1</text>
<text x="864.9" y="2036.8" font-family="Liberation Sans" stroke="#000" stroke-width="0.55" font-size="44.8" textLength="451.9" lengthAdjust="spacingAndGlyphs">Constant (C) = 890.974</text>
<text x="531.3" y="2300.2" font-family="Liberation Sans" font-weight="bold" font-size="43.3" textLength="351" lengthAdjust="spacingAndGlyphs">Relative pressure</text>
<text x="895.5" y="2300.2" font-family="Liberation Sans" font-weight="bold" font-size="41">(</text>
<text x="910.5" y="2296" font-family="Liberation Sans" font-style="italic" font-size="33.4" textLength="51.5" lengthAdjust="spacingAndGlyphs">P/P</text>
<text x="961" y="2313" font-family="Liberation Sans" font-size="32">0</text>
<text x="982" y="2300.2" font-family="Liberation Sans" font-weight="bold" font-size="41">)</text>
<g transform="translate(58.2,1896.5) rotate(-90)"><path transform="translate(-3.65 0) scale(0.04450 -0.04450)" d="M396 0L259 0L259 513C209 466 150 431 82 408L82 531C118 543 157 565 199 598C241 631 270 670 285 716L396 716Z" fill="#000"/><text x="20.7" y="0" font-family="Liberation Sans" font-size="46" font-weight="bold">/</text><text x="33.9" y="0" font-family="Liberation Sans" font-size="46" font-weight="bold">(</text><text x="51.9" y="0" font-family="Liberation Sans" font-size="46" font-weight="bold" font-style="italic" textLength="43" lengthAdjust="spacingAndGlyphs">W</text><text x="94.4" y="0" font-family="Liberation Sans" font-size="46" font-weight="bold">[</text><text x="110.9" y="0" font-family="Liberation Sans" font-size="46" font-style="italic">P</text><text x="139.8" y="0" font-family="Liberation Sans" font-size="46" font-style="italic">/</text><text x="154" y="0" font-family="Liberation Sans" font-size="46" font-style="italic">P</text><text x="182.1" y="0" font-family="Liberation Sans" font-size="25">0</text><text x="197.1" y="0" font-family="Liberation Sans" font-size="46" font-weight="bold">]</text><rect x="224.8" y="-14.7" width="25.4" height="4.5" fill="#000"/><path transform="translate(261.85 0) scale(0.04450 -0.04450)" d="M396 0L259 0L259 513C209 466 150 431 82 408L82 531C118 543 157 565 199 598C241 631 270 670 285 716L396 716Z" fill="#000"/><text x="289" y="0" font-family="Liberation Sans" font-size="46" font-weight="bold">)</text></g>
<text x="31" y="40.5" font-family="Liberation Sans" font-weight="bold" font-size="64" transform="translate(31 0) scale(0.9 1) translate(-31 0)">a</text>
<text x="48" y="1226.5" font-family="Liberation Sans" font-weight="bold" font-size="62" transform="translate(48 0) scale(1.07 1) translate(-48 0)">b</text>
</svg>
</body></html>
